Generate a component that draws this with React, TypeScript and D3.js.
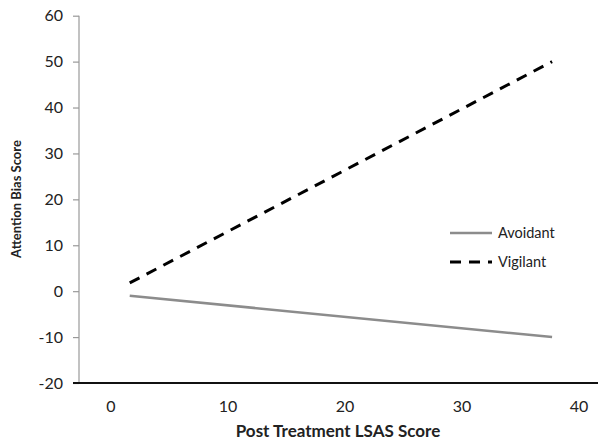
import React, { useEffect, useRef } from 'react';
import * as d3 from 'd3';

// Endpoints of the two fitted lines (x = post treatment LSAS score)
const xPoints = [1.6, 37.7];
const avoidant = [-1, -10];
const vigilant = [1.8, 50];
const yTicks = [-20, -10, 0, 10, 20, 30, 40, 50, 60];
const xTicks = [0, 10, 20, 30, 40];
const seriesNames = ['Avoidant', 'Vigilant'];

const W = 604;
const H = 445;
const FONT = 'Lato, "Open Sans", sans-serif';

const App: React.FC = () => {
  const svgRef = useRef<SVGSVGElement>(null);

  useEffect(() => {
    if (!svgRef.current) return;
    const svg = d3.select(svgRef.current);
    svg.selectAll('*').remove();

    const x = d3.scaleLinear().domain([0, 40]).range([111, 579]);
    const y = d3.scaleLinear().domain([-20, 60]).range([383, 15.7]);
    const xLeft = 79;
    const xRight = 598;

    // y axis
    const yAxis = d3
      .axisLeft(y)
      .tickValues(yTicks)
      .tickSize(6)
      .tickPadding(10)
      .tickFormat((d) => `${d}`);
    const gy = svg.append('g').attr('transform', `translate(${xLeft},0)`).call(yAxis);
    gy.select('.domain').attr('stroke', '#999').attr('stroke-width', 1.2).attr('d', `M0,${y(60)}V${y(-20)}`);
    gy.selectAll('.tick line').attr('stroke', '#999').attr('stroke-width', 1.2);
    gy.selectAll('.tick text')
      .attr('fill', '#222')
      .style('font-family', FONT)
      .style('font-size', '16px');

    // x axis (labels only, no tick marks)
    svg
      .append('line')
      .attr('x1', 73)
      .attr('x2', xRight)
      .attr('y1', y(-20))
      .attr('y2', y(-20))
      .attr('stroke', '#111')
      .attr('stroke-width', 2);

    svg
      .append('g')
      .selectAll('text')
      .data(xTicks)
      .enter()
      .append('text')
      .attr('x', (d) => x(d))
      .attr('y', 406)
      .attr('dy', '0.35em')
      .attr('text-anchor', 'middle')
      .attr('fill', '#222')
      .style('font-family', FONT)
      .style('font-size', '16px')
      .text((d) => d);

    // axis titles
    svg
      .append('text')
      .attr('x', 338)
      .attr('y', 431)
      .attr('dy', '0.35em')
      .attr('text-anchor', 'middle')
      .attr('fill', '#222')
      .style('font-family', FONT)
      .style('font-weight', 'bold')
      .style('font-size', '17px')
      .text('Post Treatment LSAS Score');

    svg
      .append('text')
      .attr('transform', `translate(16,199) rotate(-90)`)
      .attr('dy', '0.35em')
      .attr('text-anchor', 'middle')
      .attr('fill', '#222')
      .style('font-family', FONT)
      .style('font-weight', 'bold')
      .style('font-size', '13px')
      .text('Attention Bias Score');

    const line = d3
      .line<number>()
      .x((_, i) => x(xPoints[i]))
      .y((d) => y(d));

    svg
      .append('path')
      .datum(avoidant)
      .attr('d', line)
      .attr('fill', 'none')
      .attr('stroke', '#8c8c8c')
      .attr('stroke-width', 2.5);

    svg
      .append('path')
      .datum(vigilant)
      .attr('d', line)
      .attr('fill', 'none')
      .attr('stroke', '#000')
      .attr('stroke-width', 3)
      .attr('stroke-dasharray', '11,8');

    // legend
    const legend = svg.append('g').attr('transform', 'translate(450,233)');
    seriesNames.forEach((name, i) => {
      const row = legend.append('g').attr('transform', `translate(0,${i * 29})`);
      row
        .append('line')
        .attr('x1', 0)
        .attr('x2', 42)
        .attr('y1', 0)
        .attr('y2', 0)
        .attr('stroke', i === 0 ? '#8c8c8c' : '#000')
        .attr('stroke-width', i === 0 ? 2.5 : 3)
        .attr('stroke-dasharray', i === 0 ? null : '11,8');
      row
        .append('text')
        .attr('x', 48)
        .attr('y', 0)
        .attr('dy', '0.35em')
        .attr('fill', '#222')
        .style('font-family', FONT)
        .style('font-size', '14.5px')
        .text(name);
    });
  }, []);

  return (
    <svg
      ref={svgRef}
      width={W}
      height={H}
      style={{ position: 'absolute', left: 0, top: 0, background: '#fff' }}
    />
  );
};

export default App;
